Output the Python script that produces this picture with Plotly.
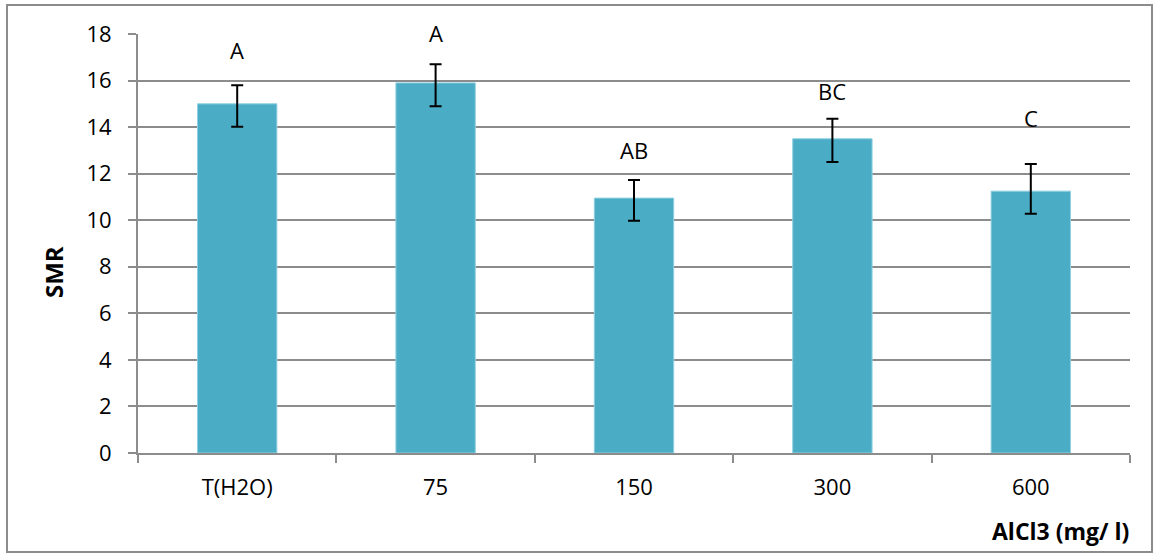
import plotly.graph_objects as go

# Treatments and measured SMR means with their error bars
categories = ["T(H2O)", "75", "150", "300", "600"]
smr_mean = [15.0, 15.9, 10.95, 13.5, 11.25]
err_plus = [0.8, 0.8, 0.78, 0.86, 1.17]
err_minus = [0.98, 1.0, 0.97, 1.0, 0.97]
group_letters = ["A", "A", "AB", "BC", "C"]
letter_y = [17.3, 18.05, 13.0, 15.55, 14.4]
y_ticks = [0, 2, 4, 6, 8, 10, 12, 14, 16, 18]
y_max = 18

W, H = 1155, 554
L, R, T, B = 138, 25, 34, 101
pw, ph = W - L - R, H - T - B

font_family = "Open Sans, Noto Sans, Liberation Sans, sans-serif"
grid_col = "#8c8c8c"
tick_size = 22

fig = go.Figure()
fig.add_trace(go.Bar(
    x=categories,
    y=smr_mean,
    marker=dict(color="#4BACC6", line=dict(color="#8fd0e0", width=1)),
    error_y=dict(type="data", symmetric=False, array=err_plus, arrayminus=err_minus,
                 color="black", thickness=2, width=6),
    showlegend=False,
    hoverinfo="skip",
))

# significance letters above each bar; y given on the paper scale so that
# labels sitting at the top edge of the axis range are still drawn
for i, (lab, ly) in enumerate(zip(group_letters, letter_y)):
    fig.add_annotation(x=i, y=ly / y_max, text=lab, showarrow=False,
                       xanchor="center", yanchor="middle",
                       font=dict(family=font_family, size=tick_size, color="black"),
                       xref="x", yref="paper")

# axis titles
fig.add_annotation(text="<b>SMR</b>", textangle=-90, showarrow=False,
                   xref="paper", yref="paper", xanchor="center", yanchor="middle",
                   x=(53 - L) / pw, y=1 - (272 - T) / ph,
                   font=dict(family=font_family, size=24, color="black"))
fig.add_annotation(text="<b>AlCl3 (mg/ l)</b>", showarrow=False,
                   xref="paper", yref="paper", xanchor="right", yanchor="middle",
                   x=(1131 - L) / pw, y=1 - (531 - T) / ph,
                   font=dict(family=font_family, size=23, color="black"))

# outer chart frame
fig.add_shape(type="rect", xref="paper", yref="paper",
              x0=(7 - L) / pw, x1=(1152 - L) / pw,
              y0=1 - (552 - T) / ph, y1=1 - (5 - T) / ph,
              line=dict(color=grid_col, width=2), fillcolor="rgba(0,0,0,0)", layer="below")

fig.update_layout(
    width=W, height=H,
    margin=dict(l=L, r=R, t=T, b=B, pad=0),
    paper_bgcolor="white", plot_bgcolor="white",
    bargap=0.6,
    font=dict(family=font_family, size=tick_size, color="black"),
    xaxis=dict(
        type="category",
        categoryorder="array", categoryarray=categories,
        range=[-0.5, len(categories) - 0.5],
        showgrid=False,
        showline=True, linecolor=grid_col, linewidth=2,
        ticks="outside", ticklen=8, tickcolor=grid_col, tickwidth=2,
        tickson="boundaries",
        tickangle=0,
        ticklabelstandoff=14,
        tickfont=dict(family=font_family, size=tick_size),
    ),
    yaxis=dict(
        range=[0, y_max],
        tickvals=y_ticks,
        showgrid=True, gridcolor=grid_col, gridwidth=2,
        showline=True, linecolor=grid_col, linewidth=2,
        ticks="outside", ticklen=8, tickcolor=grid_col, tickwidth=2,
        ticklabelstandoff=12,
        zeroline=False,
        tickfont=dict(family=font_family, size=tick_size),
    ),
)

fig.write_html("out.html")
